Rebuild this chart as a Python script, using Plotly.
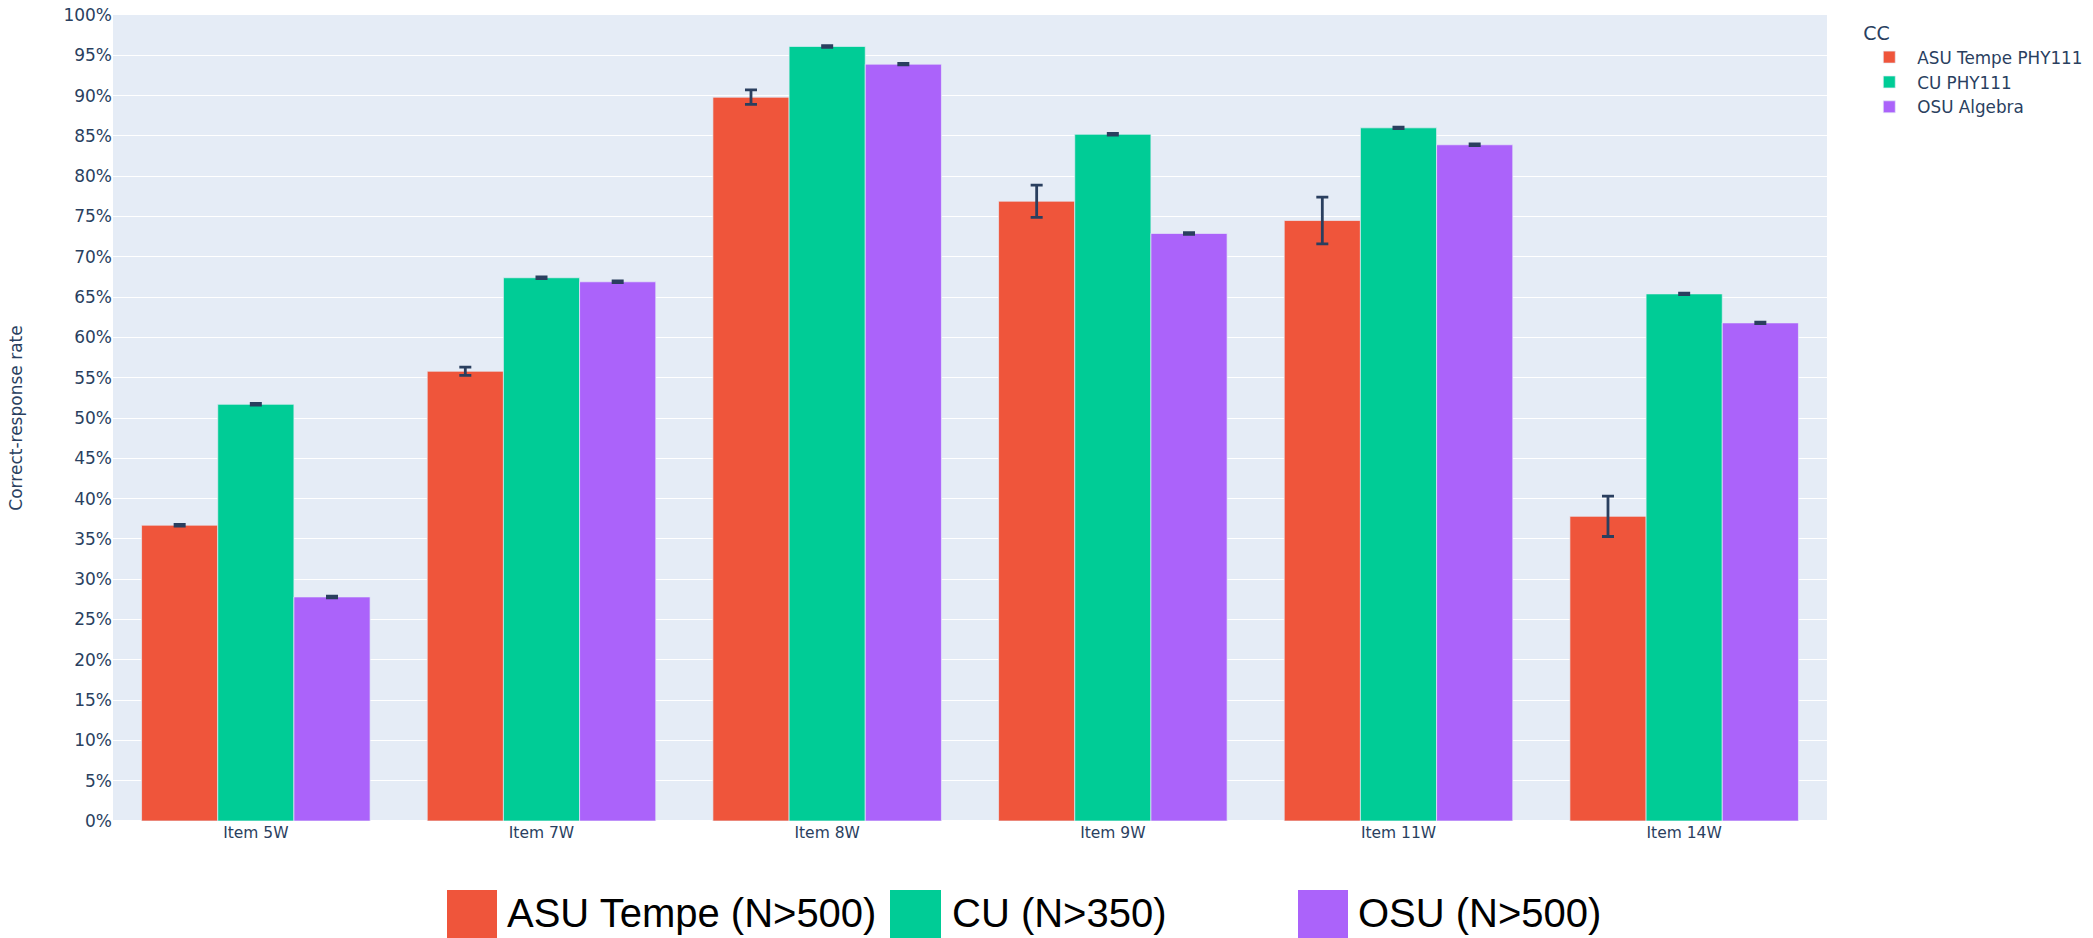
import plotly.graph_objects as go

# Items on the x axis
items = ["Item 5W", "Item 7W", "Item 8W", "Item 9W", "Item 11W", "Item 14W"]

# Correct-response rates (%) per course
asu_rate = [36.7, 55.8, 89.8, 76.9, 74.5, 37.8]
cu_rate = [51.7, 67.4, 96.1, 85.2, 86.0, 65.4]
osu_rate = [27.8, 66.9, 93.9, 72.9, 83.9, 61.8]

# Error-bar half-widths (%)
asu_err = [0.1, 0.5, 0.9, 2.0, 2.9, 2.5]
cu_err = [0.1, 0.1, 0.1, 0.1, 0.1, 0.1]
osu_err = [0.1, 0.1, 0.1, 0.1, 0.1, 0.1]

series_names = ["ASU Tempe PHY111", "CU PHY111", "OSU Algebra"]
footer_labels = ["ASU Tempe (N>500)", "CU (N>350)", "OSU (N>500)"]
colors = ["#EF553B", "#00CC96", "#AB63FA"]

W, H = 2093, 938
ML, MR, MT, MB = 113, 266, 15, 117
plot_w = W - ML - MR
plot_h = H - MT - MB

fig = go.Figure()
for name, vals, errs, col in zip(series_names, [asu_rate, cu_rate, osu_rate],
                                 [asu_err, cu_err, osu_err], colors):
    fig.add_trace(go.Bar(
        name=name, x=items, y=vals,
        marker=dict(color=col, line=dict(color="#E5ECF6", width=0.7)),
        error_y=dict(type="data", array=errs, visible=True,
                     color="#2a3f5f", thickness=2.8, width=6),
    ))


def px_x(px):
    return (px - ML) / plot_w


def px_y(py):
    return (H - MB - py) / plot_h


# Footer legend: colour blocks with labels below the chart
block_x = [(447, 497), (890, 941), (1298, 1348)]
text_x = [505, 950, 1356]
shapes = []
annotations = []
for (x0, x1), tx, col, lab in zip(block_x, text_x, colors, footer_labels):
    shapes.append(dict(type="rect", xref="paper", yref="paper",
                       x0=px_x(x0), x1=px_x(x1), y0=px_y(938), y1=px_y(890),
                       fillcolor=col, line=dict(width=0)))
    annotations.append(dict(xref="paper", yref="paper", x=px_x(tx), y=px_y(913),
                            xanchor="left", yanchor="middle", showarrow=False,
                            text=lab,
                            font=dict(family="Liberation Sans, Arial",
                                      size=40, color="black")))

fig.update_layout(
    width=W, height=H,
    margin=dict(l=ML, r=MR, t=MT, b=MB, autoexpand=False),
    template="plotly",
    barmode="group",
    bargap=0.2,
    font=dict(family="DejaVu Sans, Verdana, sans-serif", size=16.8, color="#2a3f5f"),
    legend=dict(title=dict(text="CC", font=dict(size=19)), font=dict(size=16.8),
                tracegroupgap=0, itemwidth=46),
    yaxis=dict(title=dict(text="Correct-response rate", standoff=36, font=dict(size=17)),
               range=[0, 100], dtick=5, ticksuffix="%", tickfont=dict(size=17),
               automargin=False),
    xaxis=dict(tickfont=dict(size=15.5), automargin=False),
    shapes=shapes,
    annotations=annotations,
)

fig.write_html("out.html")
